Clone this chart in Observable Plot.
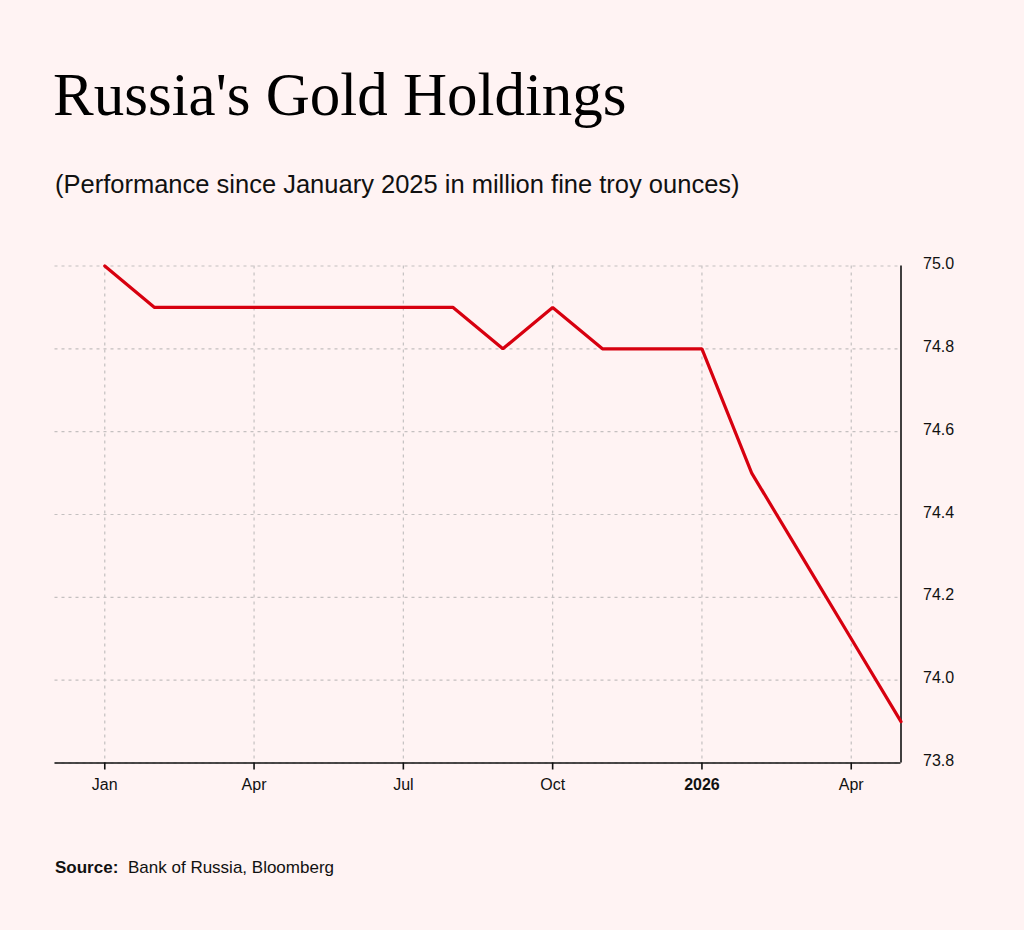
<!DOCTYPE html>
<html>
<head>
<meta charset="utf-8">
<script src="https://cdn.jsdelivr.net/npm/d3@7"></script>
<script src="https://cdn.jsdelivr.net/npm/@observablehq/plot@0.6"></script>
<style>
  html, body { margin: 0; padding: 0; background: #fff3f3; }
  #page { position: relative; width: 1024px; height: 930px; background: #fff3f3; overflow: hidden; }
  #title { position: absolute; left: 53px; top: 57px; font-family: "Liberation Serif", "Times New Roman", serif; font-size: 61px; line-height: 76px; color: #000; white-space: nowrap; }
  #subtitle { position: absolute; left: 55px; top: 168px; font-family: "Liberation Sans", Arial, sans-serif; font-size: 25.5px; line-height: 32px; color: #111; white-space: nowrap; }
  #chart { position: absolute; left: 0; top: 230px; }
  #source { position: absolute; left: 55px; top: 857px; font-family: "Liberation Sans", Arial, sans-serif; font-size: 17px; line-height: 22px; color: #111; white-space: nowrap; }
  #source b { margin-right: 5px; }
</style>
</head>
<body>
<div id="page">
  <div id="title">Russia's Gold Holdings</div>
  <div id="subtitle">(Performance since January 2025 in million fine troy ounces)</div>
  <div id="chart"></div>
  <div id="source"><b>Source:</b> Bank of Russia, Bloomberg</div>
</div>
<script>
// Monthly observations
const months = ["2025-01","2025-02","2025-03","2025-04","2025-05","2025-06","2025-07","2025-08","2025-09","2025-10","2025-11","2025-12","2026-01","2026-02","2026-03","2026-04","2026-05"];
const holdings = [75.0, 74.9, 74.9, 74.9, 74.9, 74.9, 74.9, 74.9, 74.8, 74.9, 74.8, 74.8, 74.8, 74.5, 74.3, 74.1, 73.9];

// Axis ticks
const xTicks = [0, 3, 6, 9, 12, 15];
const xTickLabels = ["Jan", "Apr", "Jul", "Oct", "2026", "Apr"];
const xBoldTicks = [12];
const yTicks = [73.8, 74.0, 74.2, 74.4, 74.6, 74.8, 75.0];

const data = months.map((m, i) => ({i, month: m, value: holdings[i]}));
const xLabel = d => xTickLabels[xTicks.indexOf(d)];
const last = months.length - 1;

const chart = Plot.plot({
  width: 1024,
  height: 600,
  marginTop: 35.5,
  marginBottom: 67.5,
  marginLeft: 54.5,
  marginRight: 123.5,
  style: {background: "transparent", fontFamily: "Liberation Sans, Arial, sans-serif", fontSize: "16px", color: "#111", overflow: "visible"},
  x: {type: "linear", domain: [-1, last], label: null},
  y: {domain: [yTicks[0], yTicks[yTicks.length - 1]], label: null},
  marks: [
    Plot.gridX(xTicks, {stroke: "#c4c0c0", strokeOpacity: 1, strokeWidth: 1.2, strokeDasharray: "3,4"}),
    Plot.gridY(yTicks, {stroke: "#c4c0c0", strokeOpacity: 1, strokeWidth: 1.2, strokeDasharray: "3,4"}),
    Plot.ruleY([yTicks[0]], {stroke: "#111", strokeWidth: 1.6}),
    Plot.ruleX([last], {stroke: "#111", strokeWidth: 1.6}),
    Plot.axisX(xTicks.filter(t => !xBoldTicks.includes(t)), {label: null, tickSize: 7, tickPadding: 9, tickFormat: xLabel, fontSize: 16, stroke: "#111", strokeWidth: 1.6, fill: "#111"}),
    Plot.axisX(xBoldTicks, {label: null, tickSize: 7, tickPadding: 9, tickFormat: xLabel, fontSize: 16, fontWeight: "bold", stroke: "#111", strokeWidth: 1.6, fill: "#111"}),
    Plot.axisY(yTicks, {label: null, anchor: "right", tickSize: 0, tickPadding: 22, tickFormat: d => d.toFixed(1), fontSize: 16, fill: "#111", dy: -2}),
    Plot.line(data, {x: "i", y: "value", stroke: "#d7000f", strokeWidth: 3.2, strokeLinejoin: "miter"})
  ]
});
document.getElementById("chart").appendChild(chart);
</script>
</body>
</html>
